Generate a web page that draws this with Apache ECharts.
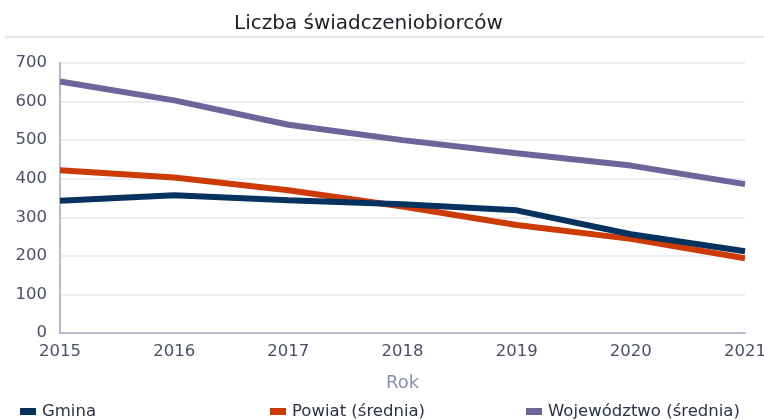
<!DOCTYPE html>
<html lang="pl">
<head>
	<meta charset="UTF-8">
	<title>Liczba świadczeniobiorców</title>
	<script src="https://cdn.jsdelivr.net/npm/echarts@6/dist/echarts.min.js"></script>
	<style>
		html,body{margin:0;padding:0;background:#fff;}
		#main{width:764px;height:420px;}
	</style>
</head>
<body>
	<div id="main"></div>
	<script>
		var lata = ['2015','2016','2017','2018','2019','2020','2021'];
		var gmina = [343, 357, 344, 334, 318, 256, 212];
		var powiat = [422, 403, 370, 328, 280, 244, 194];
		var wojewodztwo = [652, 603, 540, 500, 466, 434, 386];
		var nazwy = ['Gmina', 'Powiat (średnia)', 'Województwo (średnia)'];
		var kolory = ['#06325f', '#cc3a06', '#6b6599'];

		var font = '"DejaVu Sans", Verdana, sans-serif';
		var myChart = echarts.init(document.getElementById('main'));

		// osobna legenda dla kazdej serii, zeby trzymac pozycje jak w oryginale
		function legenda(i, left){
			return {
				data: [nazwy[i]],
				left: left,
				top: 398,
				itemWidth: 16,
				itemHeight: 7,
				icon: 'rect',
				itemGap: 4,
				textStyle: {color: '#2a3048', fontSize: 16.5, fontFamily: font, padding: [0,0,0,1]}
			};
		}

		var option = {
			animation: false,
			color: kolory,
			title: {
				text: 'Liczba świadczeniobiorców',
				left: 229,
				top: 9,
				textStyle: {color: '#1e1e28', fontSize: 20, fontWeight: 'normal', fontFamily: font}
			},
			graphic: [{
				type: 'rect',
				shape: {x: 5, y: 36, width: 759, height: 2},
				style: {fill: '#e6e6ee'}
			}],
			legend: [legenda(0, 15), legenda(1, 265), legenda(2, 521)],
			grid: {left: 60, right: 19, top: 63, bottom: 87, outerBoundsMode: 'none'},
			xAxis: {
				type: 'category',
				data: lata,
				boundaryGap: false,
				name: 'Rok',
				nameLocation: 'middle',
				nameGap: 41,
				nameTextStyle: {color: '#8a8fae', fontSize: 18, fontFamily: font},
				axisLine: {lineStyle: {color: '#b9b9cf', width: 2}},
				axisTick: {show: false},
				axisLabel: {color: '#4a5068', fontSize: 16.5, fontFamily: font, margin: 10}
			},
			yAxis: {
				type: 'value',
				min: 0,
				max: 700,
				interval: 100,
				axisLine: {show: true, lineStyle: {color: '#b9b9cf', width: 2}},
				axisTick: {show: false},
				axisLabel: {color: '#4a5068', fontSize: 16.5, fontFamily: font, margin: 13},
				splitLine: {lineStyle: {color: '#ececf3', width: 2}}
			},
			series: [
				{name: nazwy[0], type: 'line', data: gmina, symbol: 'none', lineStyle: {width: 6}, z: 3},
				{name: nazwy[1], type: 'line', data: powiat, symbol: 'none', lineStyle: {width: 6}, z: 2},
				{name: nazwy[2], type: 'line', data: wojewodztwo, symbol: 'none', lineStyle: {width: 6}, z: 1}
			]
		};
		myChart.setOption(option);
	</script>
</body>
</html>
